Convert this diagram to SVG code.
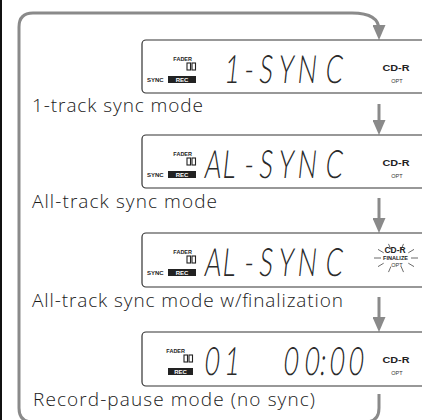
<svg xmlns="http://www.w3.org/2000/svg" width="422" height="420" viewBox="0 0 422 420">
<style>
.bg{fill:#fff}
.loop{fill:none;stroke:#8a8a8a;stroke-width:3}
.box{fill:#fff;stroke:#333;stroke-width:1.2}
.lbl{font-family:"Open Sans","Liberation Sans",sans-serif;font-size:19px;font-weight:300;fill:#1a1a1a}
.tiny{font-family:"Liberation Sans",Arial,sans-serif;font-weight:bold;fill:#222}
.fader{font-size:5.5px;text-anchor:end}
.sync{font-size:6px}
.rec{font-size:6px;fill:#fff;text-anchor:middle}
.cdr{font-size:9px;text-anchor:middle}
.opt{font-family:"Liberation Sans",Arial,sans-serif;font-size:5.5px;fill:#333;text-anchor:middle}
.fin{font-size:6px;text-anchor:middle}
.bar{fill:none;stroke:#222;stroke-width:1.1}
.lcd{font-family:Lato,"Open Sans","Liberation Sans",sans-serif;font-weight:300;font-size:39px;fill:#2a2a2a;text-anchor:middle}
.ray{stroke:#444;stroke-width:0.8}
</style>
<defs>
<marker id="ah" markerUnits="userSpaceOnUse" markerWidth="16" markerHeight="13" refX="5" refY="6.5" orient="auto" viewBox="0 0 16 13">
<path d="M0,0 L15,6.5 L0,13 z" fill="#8a8a8a"/>
</marker>
</defs>
<rect class="bg" x="0" y="0" width="422" height="420"/>
<rect x="0" y="0" width="2" height="420" fill="#111"/>

<g id="connectors">
<path class="loop" d="M379 394 V408 Q379 422 365 422 H33 Q19 422 19 408 V27 Q19 13 33 13 H352 Q379 13 379 30" marker-end="url(#ah)"/>
<path class="loop" d="M379 104 V125" marker-end="url(#ah)"/>
<path class="loop" d="M379 198 V223" marker-end="url(#ah)"/>
<path class="loop" d="M379 297 V322" marker-end="url(#ah)"/>
</g>

<g id="node1">
<rect class="box" x="142" y="40" width="300" height="53" rx="4"/>
<text class="tiny fader" x="192" y="61">FADER</text>
<rect class="bar" x="187" y="63" width="3.5" height="7"/>
<rect class="bar" x="192" y="63" width="3.5" height="7"/>
<text class="tiny sync" x="147" y="82">SYNC</text>
<rect x="168" y="76" width="28" height="7" fill="#222"/>
<text class="tiny rec" x="182" y="81.5">REC</text>
<text class="lcd" transform="translate(0,83) skewX(-6) scale(0.65,1)" x="355.4 381.5 407.7 438.5 470.8 512.3" y="0">1-SYNC</text>
<text class="tiny cdr" x="396" y="71" textLength="27" lengthAdjust="spacingAndGlyphs">CD-R</text>
<text class="opt" x="397" y="83">OPT</text>
<text class="lbl" x="32" y="112" textLength="171" lengthAdjust="spacing">1-track sync mode</text>
</g>

<g id="node2">
<rect class="box" x="142" y="135" width="300" height="53" rx="4"/>
<text class="tiny fader" x="192" y="156">FADER</text>
<rect class="bar" x="187" y="158" width="3.5" height="7"/>
<rect class="bar" x="192" y="158" width="3.5" height="7"/>
<text class="tiny sync" x="147" y="177">SYNC</text>
<rect x="168" y="171" width="28" height="7" fill="#222"/>
<text class="tiny rec" x="182" y="176.5">REC</text>
<text class="lcd" transform="translate(0,178) skewX(-6) scale(0.65,1)" x="326.2 350.8 381.5 407.7 438.5 470.8 512.3" y="0">AL-SYNC</text>
<text class="tiny cdr" x="396" y="166" textLength="27" lengthAdjust="spacingAndGlyphs">CD-R</text>
<text class="opt" x="397" y="178">OPT</text>
<text class="lbl" x="32" y="208" textLength="185" lengthAdjust="spacing">All-track sync mode</text>
</g>

<g id="node3">
<rect class="box" x="142" y="233" width="300" height="54" rx="4"/>
<text class="tiny fader" x="192" y="254">FADER</text>
<rect class="bar" x="187" y="256" width="3.5" height="7"/>
<rect class="bar" x="192" y="256" width="3.5" height="7"/>
<text class="tiny sync" x="147" y="275">SYNC</text>
<rect x="168" y="269" width="28" height="7" fill="#222"/>
<text class="tiny rec" x="182" y="274.5">REC</text>
<text class="lcd" transform="translate(0,276) skewX(-6) scale(0.65,1)" x="326.2 350.8 381.5 407.7 438.5 470.8 512.3" y="0">AL-SYNC</text>
<text class="tiny cdr" x="395" y="253" textLength="21" lengthAdjust="spacingAndGlyphs">CD-R</text>
<text class="tiny fin" x="395.5" y="260" textLength="25" lengthAdjust="spacingAndGlyphs">FINALIZE</text>
<text class="opt" x="397" y="267">OPT</text>
<g class="ray">
<line x1="411" y1="258" x2="418" y2="258"/>
<line x1="408.3" y1="252.8" x2="414" y2="249.4"/>
<line x1="401.1" y1="249.5" x2="403.5" y2="243.9"/>
<line x1="390.9" y1="249.5" x2="388.5" y2="243.9"/>
<line x1="383.7" y1="252.8" x2="378" y2="249.4"/>
<line x1="381" y1="258" x2="374" y2="258"/>
<line x1="383.7" y1="263.2" x2="378" y2="266.6"/>
<line x1="390.9" y1="266.5" x2="388.5" y2="272.1"/>
<line x1="401.1" y1="266.5" x2="403.5" y2="272.1"/>
<line x1="408.3" y1="263.2" x2="414" y2="266.6"/>
</g>
<text class="lbl" x="32" y="307" textLength="311" lengthAdjust="spacing">All-track sync mode w/finalization</text>
</g>

<g id="node4">
<rect class="box" x="142" y="332" width="300" height="54" rx="4"/>
<text class="tiny fader" x="185" y="353">FADER</text>
<rect class="bar" x="184" y="355" width="3.5" height="7"/>
<rect class="bar" x="189" y="355" width="3.5" height="7"/>
<rect x="168" y="368" width="25" height="7" fill="#222"/>
<text class="tiny rec" x="180.5" y="373.5">REC</text>
<text class="lcd" transform="translate(0,375) skewX(-6) scale(0.65,1)" x="324.6 355.4 400 446.2 478.5 495.4 516.9 546.2" y="0">01 00:00</text>
<text class="tiny cdr" x="396" y="363" textLength="27" lengthAdjust="spacingAndGlyphs">CD-R</text>
<text class="opt" x="397" y="375">OPT</text>
<text class="lbl" x="33" y="406" textLength="282" lengthAdjust="spacing">Record-pause mode (no sync)</text>
</g>
</svg>
